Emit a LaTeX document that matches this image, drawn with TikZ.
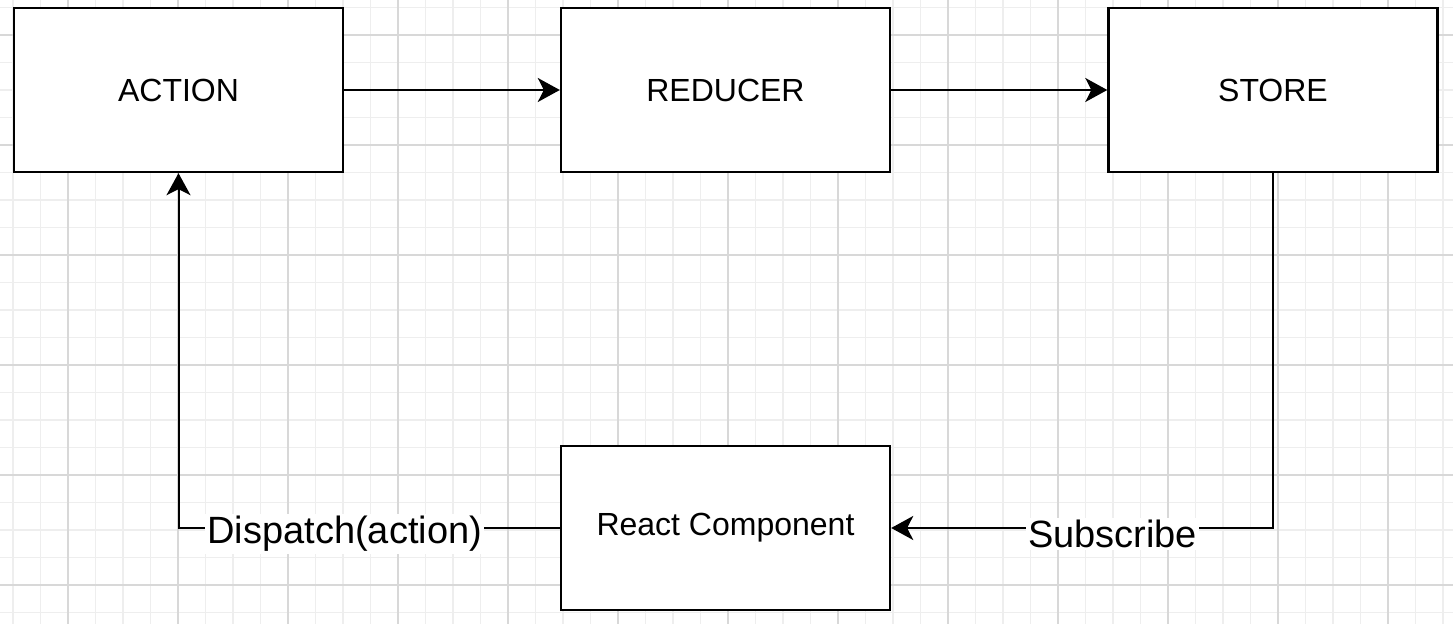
\documentclass[tikz,border=0pt]{standalone}
\usepackage{fontspec}
\setmainfont{Liberation Sans}
\usepackage{xcolor}
\usetikzlibrary{arrows.meta}
\definecolor{gridminor}{RGB}{238,238,238}
\definecolor{gridmajor}{RGB}{216,216,216}
\tikzstyle{block}=[draw, fill=white, line width=1.2pt, minimum width=164.5pt, minimum height=82pt, font=\fontsize{16}{19}\selectfont]
\tikzset{flow/.style={line width=1pt, -{Stealth[length=11pt, width=12pt, inset=3pt]}}}
\tikzstyle{label}=[fill=white, inner sep=1pt, font=\fontsize{19}{22}\selectfont]

\begin{document}
\begin{tikzpicture}[x=0.5pt,y=-0.5pt]
  \useasboundingbox (0,0) rectangle (1453,624);
  \fill[white] (0,0) rectangle (1453,624);

  %% Grid
  \foreach \x in {13,40.5,...,1453} \draw[gridminor,line width=0.9pt] (\x,0) -- (\x,624);
  \foreach \y in {7.5,35,...,624} \draw[gridminor,line width=0.9pt] (0,\y) -- (1453,\y);
  \foreach \x in {68,178,...,1453} \draw[gridmajor,line width=1pt] (\x,0) -- (\x,624);
  \foreach \y in {35,145,...,624} \draw[gridmajor,line width=1pt] (0,\y) -- (1453,\y);

  \draw (178.5,90) node[block] (ACTION) {ACTION};
  \draw (725.5,90) node[block] (REDUCER) {REDUCER};
  \draw (1273,90) node[block] (STORE) {STORE};
  \draw (725.5,528) node[block] (REACT) {React Component};

  \draw[flow] (ACTION) -- (REDUCER);
  \draw[flow] (REDUCER) -- (STORE);

  %% Loop back
  \draw[flow] (STORE.south) |- node[label, pos=0.71, yshift=-3pt] {Subscribe} (REACT.east);
  \draw[flow] (REACT.west) -| node[label, pos=0.282, yshift=-3pt] {Dispatch(action)} (ACTION.south);
\end{tikzpicture}
\end{document}
